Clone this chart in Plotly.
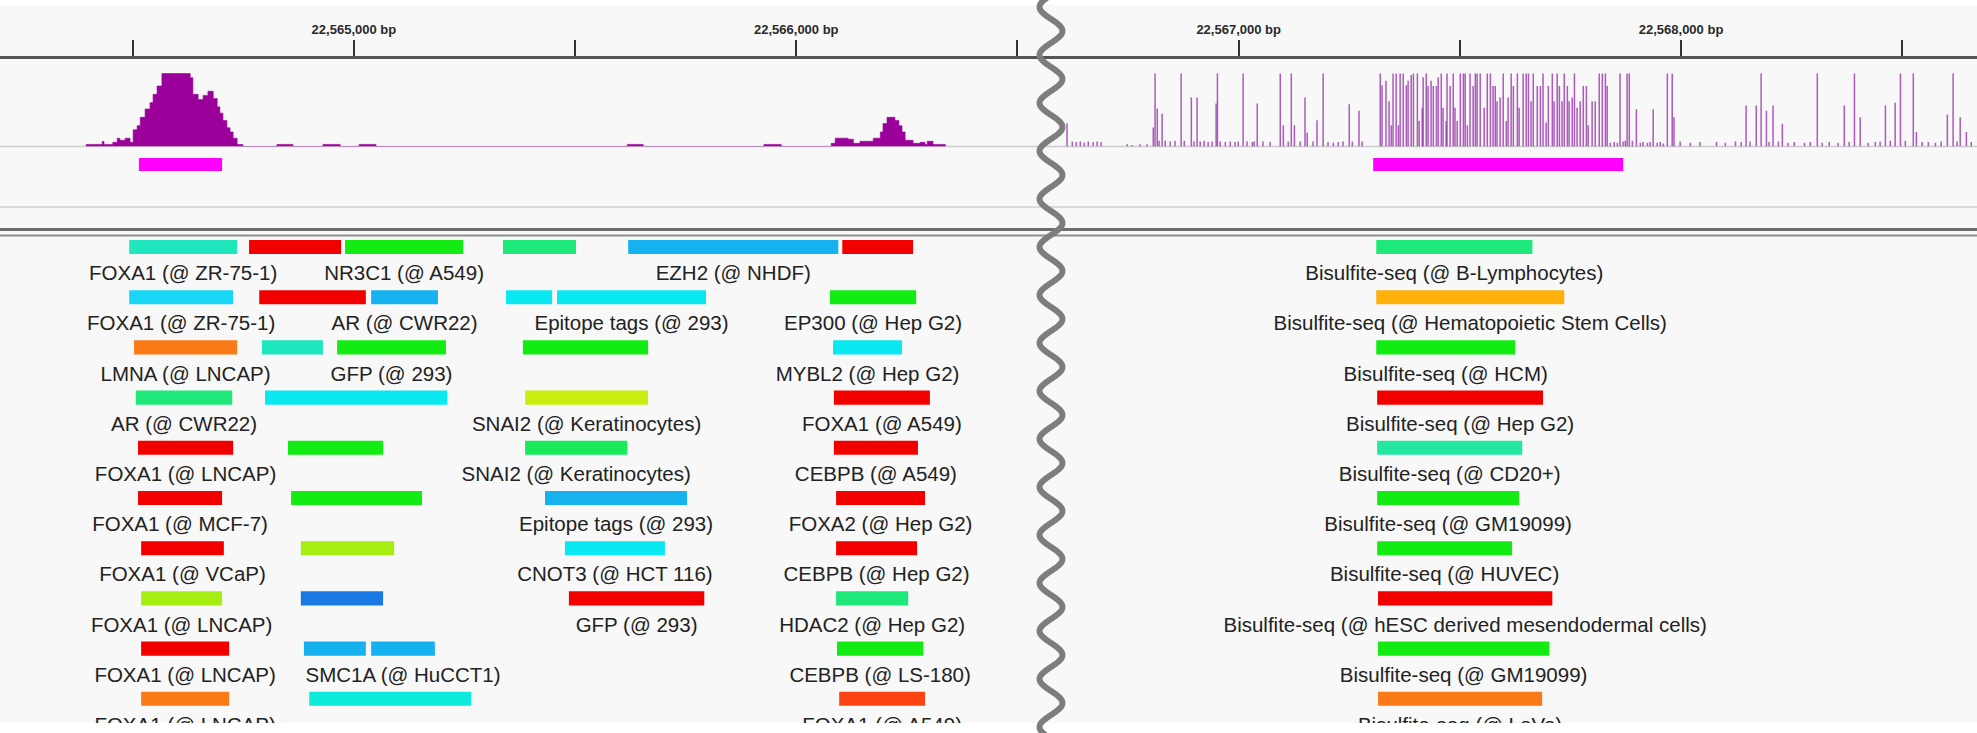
import math
import plotly.graph_objects as go

W, H = 1977, 733

# ---------------- genomic window and ruler ----------------
REGION_START = 22564200
REGION_END = 22568669
TICK_POS = [22565000, 22566000, 22567000, 22568000]
TICK_TEXT = ["22,565,000 bp", "22,566,000 bp", "22,567,000 bp", "22,568,000 bp"]

# ---------------- ChIP-seq coverage (step segments) ----------------
cov_start = [22564394, 22564431, 22564435, 22564455, 22564465, 22564471, 22564483, 22564494,
             22564501, 22564510, 22564517, 22564528, 22564539, 22564546, 22564555, 22564566,
             22564630, 22564636, 22564648, 22564659, 22564670, 22564682, 22564691, 22564697,
             22564704, 22564713, 22564720, 22564727, 22564736,
             22564826, 22564930, 22565012, 22565618, 22565927,
             22566079, 22566088, 22566117, 22566129, 22566144, 22566174, 22566190, 22566196,
             22566205, 22566223, 22566232, 22566239, 22566246, 22566264, 22566280, 22566291,
             22566296, 22566309]
cov_end = [22564431, 22564435, 22564455, 22564465, 22564471, 22564483, 22564494, 22564501,
           22564510, 22564517, 22564528, 22564539, 22564546, 22564555, 22564566, 22564630,
           22564636, 22564648, 22564659, 22564670, 22564682, 22564691, 22564697, 22564704,
           22564713, 22564720, 22564727, 22564736, 22564749,
           22564862, 22564969, 22565050, 22565654, 22565966,
           22566088, 22566117, 22566129, 22566144, 22566174, 22566190, 22566196, 22566205,
           22566223, 22566232, 22566239, 22566246, 22566264, 22566280, 22566291, 22566296,
           22566309, 22566337]
cov_val = [1, 2.4, 1, 2, 4, 3, 4, 2,
           8, 10, 14, 18, 21, 25, 29, 35,
           33, 25, 22.5, 24.5, 26.5, 23, 19, 16,
           12.5, 9, 7, 4, 1,
           1, 1, 1, 1, 1,
           1.5, 4, 3.5, 1.5, 2.5, 4, 7, 11,
           14, 12.5, 10, 7, 3, 1.5, 2, 1,
           2.5, 1]

# ---------------- CpG methylation (fraction methylated) ----------------
cpg_pos = [22566612, 22566624, 22566633, 22566642, 22566651, 22566660, 22566671, 22566680, 22566689,
           22566748, 22566759, 22566777, 22566793, 22566807, 22566811, 22566816, 22566820, 22566827,
           22566834, 22566845, 22566856, 22566870, 22566877, 22566893, 22566899, 22566906, 22566913,
           22566922, 22566931, 22566940, 22566949, 22566952, 22566958, 22566970, 22566981, 22566992,
           22566999, 22567010, 22567019, 22567031, 22567035, 22567042, 22567055, 22567071, 22567094,
           22567101, 22567112, 22567119, 22567126, 22567139, 22567150, 22567155, 22567168, 22567177,
           22567191, 22567202, 22567214, 22567225, 22567236, 22567250, 22567257, 22567272, 22567279,
           22567320, 22567324, 22567333, 22567340, 22567345, 22567349, 22567356, 22567361, 22567365,
           22567372, 22567379, 22567383, 22567390, 22567395, 22567404, 22567408, 22567415, 22567417,
           22567424, 22567428, 22567435, 22567440, 22567447, 22567451, 22567458, 22567462, 22567469,
           22567471, 22567478, 22567485, 22567489, 22567494, 22567501, 22567508, 22567512, 22567517,
           22567523, 22567530, 22567535, 22567539, 22567546, 22567555, 22567562, 22567569, 22567575,
           22567580, 22567584, 22567591, 22567598, 22567605, 22567609, 22567616, 22567621, 22567630,
           22567634, 22567643, 22567650, 22567655, 22567661, 22567666, 22567675, 22567682, 22567688,
           22567695, 22567700, 22567709, 22567713, 22567720, 22567725, 22567731, 22567736, 22567743,
           22567747, 22567754, 22567759, 22567765, 22567772, 22567779, 22567786, 22567790, 22567799,
           22567806, 22567815, 22567822, 22567829, 22567833,
           22567840, 22567849, 22567856, 22567862, 22567869, 22567874, 22567878, 22567883, 22567890,
           22567899, 22567908, 22567914, 22567924, 22567930, 22567937, 22567946, 22567953, 22567960,
           22567969, 22567980, 22567984, 22567998, 22568021, 22568043, 22568080, 22568100, 22568123,
           22568136, 22568147, 22568156, 22568170, 22568181, 22568193, 22568199, 22568208, 22568220,
           22568229, 22568242, 22568256, 22568279, 22568292, 22568308, 22568319, 22568335, 22568355,
           22568369, 22568380, 22568392, 22568405, 22568423, 22568439, 22568450, 22568462, 22568473,
           22568484, 22568496, 22568507, 22568525, 22568532, 22568545, 22568559, 22568575, 22568588,
           22568602, 22568615, 22568624, 22568631, 22568645, 22568656]
cpg_frac = [0.32, 0.07, 0.06, 0.07, 0.05, 0.07, 0.06, 0.07, 0.06,
            0.03, 0.02, 0.03, 0.03, 0.26, 1.0, 0.52, 0.08, 0.45,
            0.08, 0.07, 0.08, 1.0, 0.08, 0.67, 0.07, 0.67, 0.07,
            0.08, 0.06, 0.07, 0.59, 1.0, 0.07, 0.06, 0.07, 0.06,
            0.07, 1.0, 0.07, 0.06, 0.07, 0.59, 0.07, 0.06, 1.0,
            0.29, 0.07, 1.0, 0.29, 0.07, 0.67, 0.19, 0.07, 0.36,
            1.0, 0.06, 0.05, 0.06, 0.07, 0.58, 0.07, 0.49, 0.07,
            1.0, 0.84, 0.9, 0.62, 0.29, 1.0, 1.0, 0.29, 1.0,
            1.0, 0.84, 0.9, 0.98, 1.0, 1.0, 0.35, 0.53, 0.95,
            1.0, 0.83, 0.9, 0.83, 0.83, 0.95, 1.0, 0.53, 0.35,
            1.0, 0.83, 1.0, 0.53, 0.35, 1.0, 1.0, 1.0, 0.29,
            1.0, 0.83, 1.0, 1.0, 1.0, 0.53, 1.0, 1.0, 0.83,
            0.83, 0.62, 0.67, 1.0, 0.35, 0.67, 1.0, 0.83, 1.0,
            0.53, 1.0, 1.0, 1.0, 0.62, 1.0, 0.83, 0.83, 1.0,
            0.33, 0.83, 1.0, 0.62, 1.0, 0.83, 0.62, 1.0, 0.83,
            0.62, 0.67, 1.0, 0.53, 0.62, 0.83, 0.83, 0.29, 0.62,
            0.62, 1.0, 1.0, 1.0, 0.83,
            0.05, 0.06, 0.05, 1.0, 0.07, 0.08, 1.0, 1.0, 0.08,
            0.51, 0.05, 0.06, 0.05, 0.06, 0.51, 0.05, 0.06, 0.04,
            1.0, 1.0, 0.40, 0.07, 0.05, 0.06, 0.06, 0.05, 0.07,
            0.06, 0.56, 0.07, 0.56, 1.0, 0.49, 0.06, 0.56, 0.07,
            0.31, 0.05, 0.06, 0.05, 0.06, 1.0, 0.05, 0.06, 0.05,
            0.56, 0.06, 1.0, 0.40, 0.05, 0.06, 0.07, 0.56, 0.08,
            0.60, 1.0, 0.08, 1.0, 0.20, 0.06, 0.06, 0.05, 0.07,
            0.44, 1.0, 0.07, 0.40, 0.20, 0.06]

# ---------------- called peaks ----------------
peak_start = [22564514, 22567304]
peak_end = [22564702, 22567869]

# ---------------- annotation features ----------------
RED, GREEN, SPRING, TEAL = "#f20000", "#12ec12", "#1ee87a", "#1fe6bd"
SKY, CYAN, LCYAN, ORANGE = "#16b2f0", "#0ae8f2", "#1ad6f6", "#f97a16"
YGREEN, LIME, BLUE, AMBER = "#cbee12", "#a6ee12", "#1a78e4", "#fdb10a"
MINT, ORANGERED, AQUA, SPRING2 = "#22e8a2", "#fb4412", "#0eeadc", "#18ea5c"

feat_row = [0, 0, 0, 0, 0, 0, 0,
            1, 1, 1, 1, 1, 1, 1,
            2, 2, 2, 2, 2, 2,
            3, 3, 3, 3, 3,
            4, 4, 4, 4, 4,
            5, 5, 5, 5, 5,
            6, 6, 6, 6, 6,
            7, 7, 7, 7, 7,
            8, 8, 8, 8, 8,
            9, 9, 9, 9]
feat_start = [22564492, 22564763, 22564980, 22565337, 22565620, 22566104, 22567311,
              22564492, 22564786, 22565039, 22565344, 22565459, 22566076, 22567311,
              22564503, 22564792, 22564962, 22565382, 22566083, 22567311,
              22564507, 22564799, 22565387, 22566085, 22567313,
              22564512, 22564851, 22565387, 22566085, 22567313,
              22564512, 22564858, 22565432, 22566090, 22567313,
              22564519, 22564880, 22565477, 22566090, 22567313,
              22564519, 22564880, 22565486, 22566090, 22567315,
              22564519, 22564887, 22565039, 22566092, 22567315,
              22564519, 22564899, 22566097, 22567315]
feat_end = [22564736, 22564971, 22565247, 22565502, 22566095, 22566264, 22567664,
            22564727, 22565027, 22565190, 22565448, 22565796, 22566271, 22567736,
            22564736, 22564930, 22565208, 22565665, 22566239, 22567625,
            22564725, 22565211, 22565665, 22566302, 22567688,
            22564727, 22565066, 22565618, 22566275, 22567641,
            22564702, 22565154, 22565753, 22566291, 22567634,
            22564706, 22565091, 22565703, 22566273, 22567618,
            22564702, 22565066, 22565792, 22566253, 22567709,
            22564718, 22565027, 22565183, 22566287, 22567702,
            22564718, 22565265, 22566291, 22567686]
feat_color = [TEAL, RED, GREEN, SPRING, SKY, RED, SPRING,
              LCYAN, RED, SKY, CYAN, CYAN, GREEN, AMBER,
              ORANGE, TEAL, GREEN, GREEN, CYAN, GREEN,
              SPRING, CYAN, YGREEN, RED, RED,
              RED, GREEN, SPRING2, RED, MINT,
              RED, GREEN, SKY, RED, GREEN,
              RED, LIME, CYAN, RED, GREEN,
              LIME, BLUE, RED, SPRING, RED,
              RED, SKY, SKY, GREEN, GREEN,
              ORANGE, AQUA, ORANGERED, ORANGE]
feat_label = ["FOXA1 (@ ZR-75-1)", "", "NR3C1 (@ A549)", "", "EZH2 (@ NHDF)", "",
              "Bisulfite-seq (@ B-Lymphocytes)",
              "FOXA1 (@ ZR-75-1)", "", "AR (@ CWR22)", "", "Epitope tags (@ 293)", "EP300 (@ Hep G2)",
              "Bisulfite-seq (@ Hematopoietic Stem Cells)",
              "LMNA (@ LNCAP)", "", "GFP (@ 293)", "", "MYBL2 (@ Hep G2)", "Bisulfite-seq (@ HCM)",
              "AR (@ CWR22)", "", "SNAI2 (@ Keratinocytes)", "FOXA1 (@ A549)", "Bisulfite-seq (@ Hep G2)",
              "FOXA1 (@ LNCAP)", "", "SNAI2 (@ Keratinocytes)", "CEBPB (@ A549)", "Bisulfite-seq (@ CD20+)",
              "FOXA1 (@ MCF-7)", "", "Epitope tags (@ 293)", "FOXA2 (@ Hep G2)", "Bisulfite-seq (@ GM19099)",
              "FOXA1 (@ VCaP)", "", "CNOT3 (@ HCT 116)", "CEBPB (@ Hep G2)", "Bisulfite-seq (@ HUVEC)",
              "FOXA1 (@ LNCAP)", "", "GFP (@ 293)", "HDAC2 (@ Hep G2)",
              "Bisulfite-seq (@ hESC derived mesendodermal cells)",
              "FOXA1 (@ LNCAP)", "", "SMC1A (@ HuCCT1)", "CEBPB (@ LS-180)", "Bisulfite-seq (@ GM19099)",
              "FOXA1 (@ LNCAP)", "", "FOXA1 (@ A549)", "Bisulfite-seq (@ LoVo)"]


def py(px):
    """pixel row (from top) -> paper y"""
    return 1 - px / H


def px_x(px):
    return px / W


fig = go.Figure()

# coverage as a filled step profile
cx, cy = [], []
for i, (s, e, v) in enumerate(zip(cov_start, cov_end, cov_val)):
    cx.append(s)
    cy.append(v)
    nxt = cov_start[i + 1] if i + 1 < len(cov_start) else None
    if nxt != e:
        cx.append(e)
        cy.append(0)
fig.add_trace(go.Scatter(x=cx, y=cy, mode="lines", line_shape="hv", fill="tozeroy",
                         fillcolor="#9b009b", line=dict(color="#9b009b", width=0.6),
                         yaxis="y", hoverinfo="skip"))

# methylation level per CpG as thin vertical bars
mx, my = [], []
for p, f in zip(cpg_pos, cpg_frac):
    mx += [p, p, None]
    my += [0, f, None]
fig.add_trace(go.Scatter(x=mx, y=my, mode="lines",
                         line=dict(color="rgba(150,45,172,0.78)", width=1.5),
                         yaxis="y2", hoverinfo="skip"))

# peaks
fig.add_trace(go.Bar(base=peak_start, x=[e - s for s, e in zip(peak_start, peak_end)],
                     y=[0.5] * len(peak_start), orientation="h", width=0.45,
                     marker=dict(color="#ff00ff", line=dict(width=0)), yaxis="y3",
                     hoverinfo="skip"))

# feature bars
fig.add_trace(go.Bar(base=feat_start, x=[e - s for s, e in zip(feat_start, feat_end)],
                     y=feat_row, orientation="h", width=0.28,
                     marker=dict(color=feat_color, line=dict(width=0)), yaxis="y4",
                     hoverinfo="skip"))

# feature labels centred beneath their bars
LABEL_OFFSET = 0.56
lx, ly, lt = [], [], []
for s, e, r, t in zip(feat_start, feat_end, feat_row, feat_label):
    if t:
        lx.append((s + e) / 2)
        ly.append(r + LABEL_OFFSET)
        lt.append(t)
fig.add_trace(go.Scatter(x=lx, y=ly, text=lt, mode="text", textposition="middle center",
                         textfont=dict(family="Liberation Sans, Arial, sans-serif", size=20.5,
                                       color="#222222"),
                         yaxis="y4", cliponaxis=True, hoverinfo="skip"))

ROW_PX = 50.2
ann_top, ann_bottom, row0 = 238, 723, 247

shapes = [
    # white margins at the top and bottom of the view
    dict(type="rect", xref="paper", yref="paper", x0=0, x1=1, y0=py(733), y1=py(723),
         fillcolor="white", line=dict(width=0), layer="above"),
    dict(type="rect", xref="paper", yref="paper", x0=0, x1=1, y0=py(5), y1=py(0),
         fillcolor="white", line=dict(width=0), layer="above"),
    # track separators
    dict(type="line", xref="paper", yref="paper", x0=0, x1=1, y0=py(146.5), y1=py(146.5),
         line=dict(color="#cccccc", width=1.5), layer="below"),
    dict(type="line", xref="paper", yref="paper", x0=0, x1=1, y0=py(207), y1=py(207),
         line=dict(color="#d2d2d2", width=1.5), layer="below"),
    dict(type="line", xref="paper", yref="paper", x0=0, x1=1, y0=py(229.5), y1=py(229.5),
         line=dict(color="#6e6e6e", width=3), layer="below"),
    dict(type="line", xref="paper", yref="paper", x0=0, x1=1, y0=py(235.5), y1=py(235.5),
         line=dict(color="#8f8f8f", width=2), layer="below"),
]

# wavy break marker
pts = []
for k in range(0, 375):
    yy = -4 + 2 * k
    xx = 1051 - 11.5 * math.cos(2 * math.pi * (yy - 247) / 48)
    pts.append(f"{px_x(xx):.5f},{py(yy):.5f}")
shapes.append(dict(type="path", xref="paper", yref="paper", path="M" + " L".join(pts),
                   line=dict(color="#7d7d7d", width=6), layer="above"))

fig.update_layout(
    width=W, height=H,
    margin=dict(l=0, r=0, t=0, b=0, pad=0),
    paper_bgcolor="#f8f8f8", plot_bgcolor="rgba(0,0,0,0)",
    showlegend=False, barmode="overlay", hovermode=False,
    xaxis=dict(range=[REGION_START, REGION_END], domain=[0, 1], anchor="free",
               position=py(56.5), side="top", showline=True, linecolor="#555555",
               linewidth=3, ticks="outside", ticklen=16, tickwidth=1.5, tickcolor="#333333",
               tickvals=TICK_POS, ticktext=TICK_TEXT,
               tickfont=dict(family="Liberation Sans, Arial, sans-serif", size=13,
                             color="#2a2a2a", weight=700),
               minor=dict(ticks="outside", ticklen=16, tickwidth=1.5, tickcolor="#333333",
                          tick0=22564500, dtick=500),
               showgrid=False, zeroline=False, fixedrange=True),
    yaxis=dict(domain=[py(146.5), py(66)], range=[0, 35 * 80.5 / 73], visible=False,
               fixedrange=True),
    yaxis2=dict(domain=[py(146.5), py(66)], overlaying="y", range=[0, 80.5 / 73],
                visible=False, fixedrange=True),
    yaxis3=dict(domain=[py(179), py(150)], range=[0, 1], visible=False, fixedrange=True),
    yaxis4=dict(domain=[py(ann_bottom), py(ann_top)],
                range=[(ann_bottom - row0) / ROW_PX, (ann_top - row0) / ROW_PX],
                visible=False, fixedrange=True),
    shapes=shapes,
)

fig.write_html("out.html")
